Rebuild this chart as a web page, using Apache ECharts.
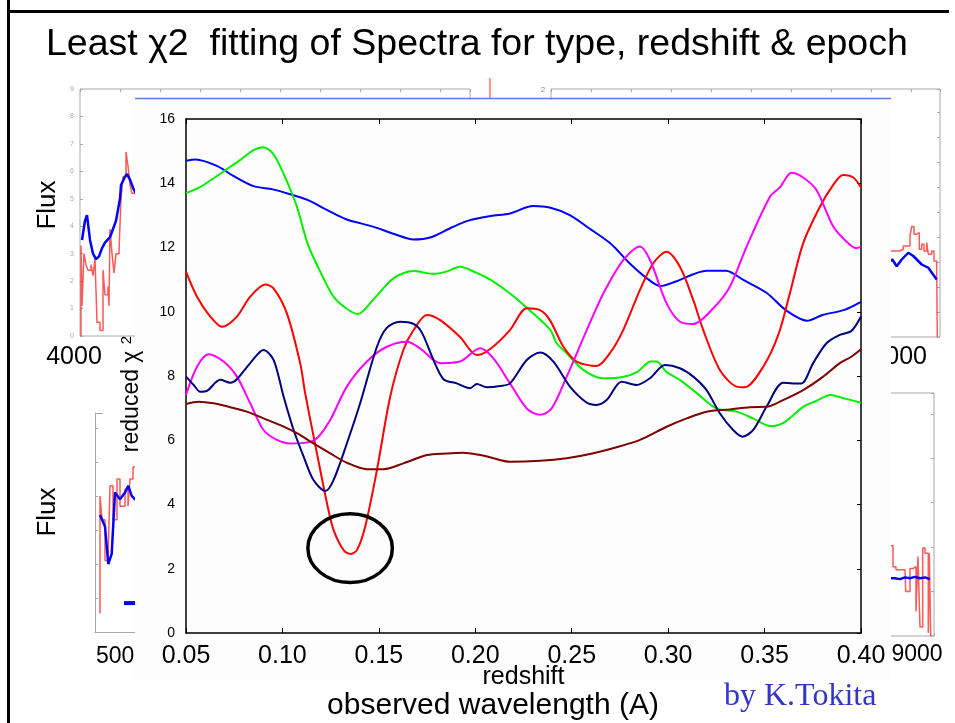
<!DOCTYPE html>
<html><head><meta charset="utf-8">
<script src="https://cdn.jsdelivr.net/npm/echarts@6/dist/echarts.min.js"></script>
<style>html,body{margin:0;padding:0;background:#fff}#c{width:955px;height:723px}</style>
</head><body><div id="c"></div>
<script>
// ---- main chart: reduced chi^2 vs redshift ----
const xTicks = [0.05, 0.10, 0.15, 0.20, 0.25, 0.30, 0.35, 0.40];
const yTicks = [0, 2, 4, 6, 8, 10, 12, 14, 16];
const chiBlue = [[0.050,14.70],[0.055,14.74],[0.066,14.54],[0.0745,14.23],[0.085,13.91],[0.095,13.81],[0.104,13.66],[0.113,13.48],[0.123,13.17],[0.133,12.88],[0.147,12.65],[0.158,12.42],[0.168,12.25],[0.177,12.32],[0.187,12.60],[0.196,12.83],[0.208,12.98],[0.218,13.06],[0.230,13.29],[0.239,13.24],[0.249,13.01],[0.259,12.60],[0.270,12.13],[0.280,11.51],[0.289,11.04],[0.296,10.80],[0.304,10.94],[0.320,11.28],[0.330,11.28],[0.339,10.99],[0.351,10.59],[0.361,10.05],[0.372,9.72],[0.380,9.90],[0.391,10.05],[0.400,10.31]];
const chiGreen = [[0.050,13.69],[0.057,13.87],[0.063,14.10],[0.071,14.43],[0.078,14.72],[0.085,15.03],[0.090,15.12],[0.095,14.93],[0.1005,14.31],[0.1075,13.27],[0.113,12.13],[0.120,11.20],[0.1265,10.47],[0.133,10.11],[0.139,9.93],[0.147,10.37],[0.1576,11.04],[0.168,11.27],[0.178,11.18],[0.185,11.25],[0.192,11.40],[0.201,11.20],[0.208,10.99],[0.218,10.57],[0.227,10.11],[0.239,9.43],[0.2422,9.02],[0.2474,8.71],[0.256,8.19],[0.266,7.93],[0.277,7.98],[0.284,8.13],[0.291,8.45],[0.294,8.45],[0.299,8.13],[0.306,7.88],[0.315,7.46],[0.325,6.99],[0.3355,6.89],[0.344,6.68],[0.353,6.44],[0.360,6.55],[0.370,7.04],[0.377,7.23],[0.384,7.41],[0.391,7.31],[0.400,7.17]];
const chiRed = [[0.050,11.25],[0.0557,10.47],[0.0626,9.85],[0.0687,9.53],[0.0764,9.85],[0.0833,10.47],[0.0911,10.85],[0.0954,10.73],[0.1023,9.95],[0.1092,8.40],[0.1118,7.46],[0.1179,5.59],[0.1231,4.04],[0.1265,3.21],[0.1317,2.58],[0.1351,2.46],[0.1386,2.58],[0.1429,3.31],[0.1490,5.07],[0.1559,7.36],[0.1627,8.81],[0.168,9.43],[0.1749,9.90],[0.1818,9.74],[0.192,9.22],[0.2008,8.65],[0.2077,8.84],[0.218,9.43],[0.2267,10.11],[0.2336,10.05],[0.2387,9.74],[0.2457,8.91],[0.2526,8.45],[0.2629,8.31],[0.2698,8.71],[0.2767,9.43],[0.2854,10.68],[0.2923,11.51],[0.2992,11.87],[0.3061,11.40],[0.3130,10.37],[0.3182,9.43],[0.3268,8.19],[0.3355,7.67],[0.3398,7.65],[0.3493,8.29],[0.3571,9.28],[0.3631,10.57],[0.3700,12.13],[0.3787,13.27],[0.3856,13.95],[0.3907,14.26],[0.396,14.18],[0.400,13.87]];
const chiMagenta = [[0.050,7.41],[0.0557,8.29],[0.0617,8.68],[0.0695,8.45],[0.0764,7.98],[0.0833,7.15],[0.0902,6.32],[0.0972,6.01],[0.104,5.90],[0.1144,5.95],[0.1187,6.11],[0.1248,6.63],[0.1334,7.67],[0.1438,8.45],[0.1541,8.91],[0.1645,9.07],[0.1714,8.86],[0.1818,8.40],[0.192,8.45],[0.2025,8.86],[0.2094,8.55],[0.218,7.77],[0.2267,6.99],[0.2336,6.79],[0.2396,6.99],[0.2474,7.98],[0.2578,9.43],[0.2664,10.57],[0.2767,11.61],[0.2854,12.03],[0.2906,11.61],[0.2992,10.26],[0.3061,9.69],[0.3130,9.62],[0.3234,10.11],[0.3320,10.78],[0.3407,12.03],[0.3528,13.58],[0.3579,13.87],[0.3640,14.33],[0.3700,14.18],[0.3769,13.79],[0.3856,12.65],[0.3925,12.18],[0.3976,11.98],[0.400,12.03]];
const chiNavy = [[0.050,7.98],[0.054,7.72],[0.0574,7.51],[0.0609,7.54],[0.0678,7.88],[0.0730,7.79],[0.0764,7.90],[0.0833,8.40],[0.0902,8.81],[0.0954,8.50],[0.1006,7.36],[0.1058,6.32],[0.111,5.49],[0.1161,4.76],[0.1222,4.42],[0.1265,4.76],[0.1334,5.90],[0.1403,7.15],[0.1490,8.91],[0.1541,9.50],[0.161,9.69],[0.168,9.62],[0.1723,9.35],[0.1783,8.50],[0.1835,7.90],[0.1904,7.77],[0.1973,7.62],[0.2008,7.75],[0.206,7.65],[0.2129,7.69],[0.218,7.77],[0.2267,8.50],[0.2336,8.73],[0.2405,8.45],[0.2491,7.67],[0.2578,7.17],[0.2629,7.10],[0.2681,7.25],[0.2759,7.82],[0.2836,7.72],[0.2906,7.93],[0.2983,8.34],[0.3061,8.24],[0.3130,7.98],[0.3199,7.56],[0.3268,6.84],[0.3337,6.32],[0.3386,6.11],[0.3441,6.32],[0.3510,7.04],[0.3596,7.79],[0.3648,7.77],[0.3691,7.77],[0.3752,8.40],[0.3821,9.02],[0.3890,9.28],[0.395,9.40],[0.400,9.85]];
const chiBrown = [[0.050,7.13],[0.0565,7.20],[0.0643,7.15],[0.073,7.03],[0.0816,6.89],[0.0902,6.68],[0.0989,6.47],[0.1075,6.22],[0.1161,5.90],[0.1248,5.59],[0.1334,5.30],[0.1438,5.10],[0.1524,5.10],[0.1627,5.28],[0.1749,5.54],[0.1852,5.59],[0.1938,5.61],[0.2025,5.54],[0.2077,5.47],[0.218,5.33],[0.2336,5.36],[0.2474,5.44],[0.2595,5.57],[0.2733,5.78],[0.2854,6.01],[0.2992,6.42],[0.3096,6.68],[0.3199,6.89],[0.3320,6.96],[0.3424,7.03],[0.3510,7.04],[0.3596,7.25],[0.3700,7.56],[0.3804,7.98],[0.3890,8.40],[0.395,8.60],[0.400,8.83]];
const bestFit = [0.1351, 2.64];      // circled minimum (redshift, chi2)
const bestFitRadius = [0.0219, 1.07];

// ---- background spectrum panels (wavelength A, flux) ----
const tlFluxTicks = [0,1,2,3,4,5,6,7,8,9];
const specTLRed = [[4010,0.0],[4010,3.3],[4020,1.1],[4040,3.0],[4060,2.6],[4080,2.4],[4110,2.6],[4130,2.2],[4150,2.8],[4170,0.5],[4200,0.2],[4230,2.4],[4250,1.5],[4280,1.8],[4290,1.1],[4300,3.9],[4320,3.0],[4340,2.3],[4360,3.0],[4390,3.1],[4410,5.0],[4430,5.8],[4460,6.7],[4480,6.2],[4500,5.5],[4520,5.2],[4560,5.2]];
const specTLBlue = [[4020,3.5],[4050,4.2],[4070,4.4],[4100,3.5],[4130,3.0],[4160,2.8],[4190,2.9],[4220,3.2],[4250,3.4],[4300,3.6],[4360,4.2],[4400,5.0],[4410,5.5],[4450,5.8],[4470,5.9],[4500,5.7],[4530,5.4],[4560,5.2]];
const specBLRed = [[5000,0.05],[5000,3.5],[5020,2.8],[5050,1.6],[5080,1.6],[5100,3.8],[5130,2.8],[5170,4.0],[5200,3.2],[5250,3.7],[5280,3.2],[5300,4.0],[5330,4.35],[5400,4.4]];
const specBLBlue = [[5000,2.94],[5050,2.6],[5083,1.5],[5117,1.8],[5150,3.6],[5200,3.4],[5250,3.6],[5283,3.8],[5317,3.5],[5350,3.4],[5400,3.5]];
const specBLMark = [[5240,0.35],[5420,0.35]];
const specTRRed = [[8880,3.44],[8990,3.51],[9023,3.64],[9090,4.04],[9107,4.42],[9130,4.11],[9157,4.18],[9183,3.51],[9207,3.71],[9230,3.44],[9257,3.78],[9273,3.31],[9307,3.44],[9330,3.04],[9357,2.70],[9363,0]];
const specTRBlue = [[8880,3.0],[8913,3.10],[8957,2.83],[9007,3.10],[9073,3.37],[9123,3.24],[9207,2.90],[9273,2.77],[9357,2.30]];
const specBRRed = [[8700,2.03],[8760,1.56],[8790,1.49],[8880,1.45],[8887,1.0],[8930,1.52],[8963,1.56],[8990,0.55],[9010,1.79],[9030,0.2],[9057,1.98],[9080,1.86],[9113,0.07],[9123,1.86],[9137,0]];
const specBRBlue = [[8700,1.3],[8780,1.3],[8830,1.28],[8880,1.32],[8930,1.3],[8980,1.33],[9030,1.3],[9080,1.32],[9130,1.28]];

const FONT = 'Liberation Sans, Arial, sans-serif';
const chart = echarts.init(document.getElementById('c'), null, {renderer: 'canvas'});

function mainLine(name, data, color) {
  return {name, type: 'line', xAxisIndex: 0, yAxisIndex: 0, data, smooth: 0.3, symbol: 'none',
    lineStyle: {color, width: 2}, z: 10, silent: true};
}
function specLine(idx, data, color, width, step) {
  return {type: 'line', xAxisIndex: idx, yAxisIndex: idx, data, symbol: 'none', step: step || false,
    lineStyle: {color, width, opacity: step ? 0.75 : 1}, z: 1, silent: true};
}
const gray = '#a8a8a8';
function panelX(idx, min, max, pos, line) {
  return {gridIndex: idx, type: 'value', min, max, interval: 400, position: pos || 'bottom',
    axisLine: {show: !!line, onZero: false, lineStyle: {color: gray}}, axisLabel: {show: false}, splitLine: {show: false},
    axisTick: {show: true, inside: true, length: 3, lineStyle: {color: gray}}, z: 0};
}
function panelY(idx, min, max, pos, showLabels, line) {
  return {gridIndex: idx, type: 'value', min, max, interval: 1, position: pos || 'left',
    axisLine: {show: !!line, onZero: false, lineStyle: {color: gray}}, splitLine: {show: false},
    axisTick: {show: true, inside: true, length: 3, lineStyle: {color: gray}},
    axisLabel: {show: !!showLabels, fontSize: 7, color: '#aaa', margin: 6,
      formatter: v => tlFluxTicks.includes(v) ? String(v) : ''}, z: 0};
}

const option = {
  animation: false,
  backgroundColor: '#ffffff',
  title: {text: 'Least χ2  fitting of Spectra for type, redshift & epoch', left: 41, top: 21,
    textStyle: {fontFamily: FONT, fontSize: 37.5, fontWeight: 'normal', color: '#000'}},
  grid: [
    {left: 186, top: 119, width: 675, height: 514, show: false},
    {left: 80, top: 89, width: 390, height: 247, show: true, borderColor: gray, borderWidth: 1, backgroundColor: 'transparent'},
    {left: 95, top: 413, width: 200, height: 219, show: false},
    {left: 551, top: 89, width: 389, height: 248, show: true, borderColor: gray, borderWidth: 1, backgroundColor: 'transparent'},
    {left: 850, top: 393, width: 84, height: 243, show: true, borderColor: gray, borderWidth: 1, backgroundColor: 'transparent'}
  ],
  xAxis: [
    {gridIndex: 0, type: 'value', min: xTicks[0], max: xTicks[xTicks.length - 1], interval: 0.05, position: 'bottom',
      axisLine: {show: true, onZero: false, lineStyle: {color: '#000', width: 1.5}},
      axisTick: {show: true, inside: true, length: 5, lineStyle: {color: '#000'}},
      axisLabel: {fontFamily: FONT, fontSize: 25, color: '#000', margin: 11, formatter: v => v.toFixed(2)},
      splitLine: {show: false}, name: 'redshift', nameLocation: 'middle', nameGap: 32, nameMoveOverlap: false,
      nameTextStyle: {fontFamily: FONT, fontSize: 25, color: '#000'}, z: 10},
    {gridIndex: 0, type: 'value', min: xTicks[0], max: xTicks[xTicks.length - 1], interval: 0.05, position: 'top',
      axisLine: {show: true, onZero: false, lineStyle: {color: '#000', width: 1.5}},
      axisTick: {show: true, inside: true, length: 5, lineStyle: {color: '#000'}},
      axisLabel: {show: false}, splitLine: {show: false}, z: 10},
    panelX(1, 4000, 7900, 'top'),
    panelX(2, 4950, 6950, 'bottom', true),
    panelX(3, 5500, 9390, 'top'),
    panelX(4, 8330, 9170, 'bottom')
  ],
  yAxis: [
    {gridIndex: 0, type: 'value', min: yTicks[0], max: yTicks[yTicks.length - 1], interval: 2, position: 'left',
      axisLine: {show: true, onZero: false, lineStyle: {color: '#000', width: 1.5}},
      axisTick: {show: false}, splitLine: {show: false},
      axisLabel: {fontFamily: FONT, fontSize: 14, color: '#000', margin: 11},
      name: 'reduced χ {s|2}', nameLocation: 'middle', nameGap: 42, nameRotate: 90,
      nameTextStyle: {fontFamily: FONT, fontSize: 23, color: '#000', padding: [0, 36, 0, 0],
        rich: {s: {fontFamily: FONT, fontSize: 15, color: '#000', padding: [0, 0, 10, 0]}}}, z: 10},
    {gridIndex: 0, type: 'value', min: yTicks[0], max: yTicks[yTicks.length - 1], interval: 2, position: 'right',
      axisLine: {show: true, onZero: false, lineStyle: {color: '#000', width: 1.5}},
      axisTick: {show: true, inside: true, length: 4, lineStyle: {color: '#000'}},
      axisLabel: {show: false}, splitLine: {show: false}, z: 10},
    panelY(1, 0, 9, 'left', true),
    panelY(2, -0.5, 5.94, 'left', false, true),
    panelY(3, 0, 9.92, 'right'),
    panelY(4, 0, 5.47, 'right')
  ],
  series: [
    specLine(2, specTLRed, '#ff2020', 1.5, 'end'),
    specLine(2, specTLBlue, '#0000ff', 2.5),
    specLine(3, specBLRed, '#ff2020', 1.5, 'end'),
    specLine(3, specBLBlue, '#0000ff', 2.5),
    specLine(3, specBLMark, '#0000ff', 4),
    specLine(4, specTRRed, '#ff2020', 1.5, 'end'),
    specLine(4, specTRBlue, '#0000ff', 2.5),
    specLine(5, specBRRed, '#ff2020', 1.5, 'end'),
    specLine(5, specBRBlue, '#0000ff', 2.5),
    mainLine('blue', chiBlue, '#0000ff'),
    mainLine('green', chiGreen, '#00f000'),
    mainLine('red', chiRed, '#ff0000'),
    mainLine('magenta', chiMagenta, '#ff00ff'),
    mainLine('navy', chiNavy, '#000080'),
    mainLine('brown', chiBrown, '#800000')
  ]
};

const baseGraphics = [
  {type: 'line', id: 'frameL', shape: {x1: 8.5, y1: 0, x2: 8.5, y2: 723}, style: {stroke: '#000', lineWidth: 3}, z: 30},
  {type: 'line', id: 'frameT', shape: {x1: 7, y1: 11.5, x2: 949, y2: 11.5}, style: {stroke: '#000', lineWidth: 3}, z: 30},
  {type: 'text', id: 'flux1', x: 48, y: 205, rotation: Math.PI / 2, style: {text: 'Flux', font: '26px ' + FONT, fill: '#000', align: 'center', verticalAlign: 'middle'}, z: 2},
  {type: 'text', id: 'flux2', x: 48, y: 512, rotation: Math.PI / 2, style: {text: 'Flux', font: '26px ' + FONT, fill: '#000', align: 'center', verticalAlign: 'middle'}, z: 2},
  {type: 'text', id: 'w1', x: 74, y: 357, style: {text: '4000', font: '25px ' + FONT, fill: '#000', align: 'center', verticalAlign: 'middle'}, z: 2},
  {type: 'text', id: 'w2', x: 96, y: 657, style: {text: '5000', font: '23px ' + FONT, fill: '#000', align: 'left', verticalAlign: 'middle'}, z: 2},
  {type: 'text', id: 'w3', x: 927, y: 357, style: {text: '9000', font: '25px ' + FONT, fill: '#000', align: 'right', verticalAlign: 'middle'}, z: 2},
  {type: 'text', id: 'w4', x: 917, y: 655, style: {text: '9000', font: '23px ' + FONT, fill: '#000', align: 'center', verticalAlign: 'middle'}, z: 2},
  {type: 'text', id: 'n2', x: 543, y: 90, style: {text: '2', font: '8px ' + FONT, fill: '#888', align: 'center', verticalAlign: 'middle'}, z: 2},
  {type: 'line', id: 'redTick', shape: {x1: 490, y1: 78, x2: 490, y2: 99}, style: {stroke: '#ff7070', lineWidth: 1.5}, z: 3},
  {type: 'line', id: 'blueTop', shape: {x1: 135, y1: 98.5, x2: 891, y2: 98.5}, style: {stroke: '#5a7ee8', lineWidth: 1.5}, z: 3},
  {type: 'line', id: 'blTop', shape: {x1: 95, y1: 413.5, x2: 103, y2: 413.5}, style: {stroke: gray, lineWidth: 1}, z: 3},
  {type: 'rect', id: 'box', shape: {x: 135, y: 100, width: 756, height: 580}, style: {fill: '#fdfdfd'}, z: 5},
  {type: 'text', id: 'obs', x: 493, y: 706, style: {text: 'observed wavelength (A)', font: '30px ' + FONT, fill: '#000', align: 'center', verticalAlign: 'middle'}, z: 30},
  {type: 'text', id: 'by', x: 724, y: 697, style: {text: 'by K.Tokita', font: '32px Liberation Serif, Times New Roman, serif', fill: '#3434c8', align: 'left', verticalAlign: 'middle'}, z: 30}
];
option.graphic = {elements: baseGraphics};
chart.setOption(option);

const c = chart.convertToPixel({xAxisIndex: 0, yAxisIndex: 0}, bestFit);
const e = chart.convertToPixel({xAxisIndex: 0, yAxisIndex: 0}, [bestFit[0] + bestFitRadius[0], bestFit[1] + bestFitRadius[1]]);
chart.setOption({graphic: {elements: [
  {type: 'ellipse', id: 'ring', shape: {cx: c[0], cy: c[1], rx: Math.abs(e[0] - c[0]), ry: Math.abs(c[1] - e[1])},
   style: {fill: 'none', stroke: '#000', lineWidth: 3.5}, z: 40}
]}});
</script>
</body></html>
